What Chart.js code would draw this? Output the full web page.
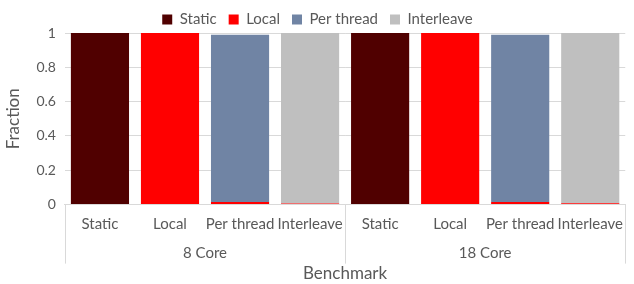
<!DOCTYPE html>
<html>
<head>
<meta charset="utf-8">
<script src="https://cdn.jsdelivr.net/npm/chart.js@4.4.1/dist/chart.umd.min.js"></script>
<style>
  html, body { margin: 0; padding: 0; background: #fff; }
  #wrap { width: 634px; height: 284px; }
</style>
</head>
<body>
<div id="wrap"><canvas id="fraction_chart"></canvas></div>
<script>
// data
const benchmarks = ['Static', 'Local', 'Per thread', 'Interleave', 'Static', 'Local', 'Per thread', 'Interleave'];
const cores = ['8 Core', '18 Core'];
const staticVals = [1, 0, 0, 0, 1, 0, 0, 0];
const localVals = [0, 1, 0.015, 0.006, 0, 1, 0.015, 0.008];
const perThreadVals = [0, 0, 0.975, 0, 0, 0, 0.975, 0];
const interleaveVals = [0, 0, 0, 0.994, 0, 0, 0, 0.992];
const yTicks = [0, 0.2, 0.4, 0.6, 0.8, 1];

const textColor = '#595959';
const lineColor = '#d9d9d9';
const font = 'Lato, "Open Sans", sans-serif';

// vertical separators for the two-level category axis
const groupLines = {
  id: 'groupLines',
  afterDraw(chart) {
    const { ctx, chartArea, scales } = chart;
    const x = scales.x;
    const n = benchmarks.length / cores.length;
    const xs = [chartArea.left];
    for (let g = 1; g < cores.length; g++) {
      xs.push((x.getPixelForValue(g * n - 1) + x.getPixelForValue(g * n)) / 2);
    }
    xs.push(chartArea.right);
    const y1 = chartArea.bottom + 59;
    ctx.save();
    ctx.strokeStyle = lineColor;
    ctx.lineWidth = 1;
    xs.forEach(px => {
      const p = Math.round(px) + 0.5;
      ctx.beginPath();
      ctx.moveTo(p, chartArea.bottom);
      ctx.lineTo(p, y1);
      ctx.stroke();
    });
    ctx.restore();
  }
};

const ctx = document.getElementById('fraction_chart').getContext('2d');
new Chart(ctx, {
  type: 'bar',
  data: {
    labels: benchmarks,
    datasets: [
      { label: 'Static', data: staticVals, backgroundColor: '#500000' },
      { label: 'Local', data: localVals, backgroundColor: '#ff0000' },
      { label: 'Per thread', data: perThreadVals, backgroundColor: '#7084a4' },
      { label: 'Interleave', data: interleaveVals, backgroundColor: '#bfbfbf' }
    ]
  },
  options: {
    animation: false,
    responsive: true,
    maintainAspectRatio: false,
    layout: { padding: { top: 0, right: 2, left: 3, bottom: 0 } },
    datasets: { bar: { categoryPercentage: 1, barPercentage: 0.83 } },
    plugins: {
      tooltip: { enabled: false },
      legend: {
        position: 'top',
        maxHeight: 33,
        labels: {
          boxWidth: 10, boxHeight: 10, padding: 12,
          color: textColor,
          font: { family: font, size: 15 }
        }
      }
    },
    scales: {
      x: {
        stacked: true,
        border: { display: true, color: lineColor },
        grid: { display: false, drawTicks: false },
        ticks: {
          color: textColor, padding: 11, maxRotation: 0, autoSkip: false,
          font: { family: font, size: 15 }
        }
      },
      x2: {
        type: 'category',
        labels: cores,
        position: 'bottom',
        offset: true,
        border: { display: false },
        grid: { display: false, drawTicks: false },
        ticks: {
          color: textColor, padding: 0,
          font: { family: font, size: 15 }
        },
        title: {
          display: true, text: 'Benchmark', color: textColor, padding: { top: 1, bottom: 0 },
          font: { family: font, size: 17 }
        }
      },
      y: {
        stacked: true,
        min: 0,
        max: 1,
        afterBuildTicks: axis => { axis.ticks = yTicks.map(v => ({ value: v })); },
        border: { display: false },
        grid: { color: lineColor, drawTicks: false },
        ticks: {
          color: textColor, padding: 9,
          font: { family: font, size: 14 },
          callback: v => String(v)
        },
        title: {
          display: true, text: 'Fraction', color: textColor, padding: { top: 0, bottom: 4 },
          font: { family: font, size: 17 }
        }
      }
    }
  },
  plugins: [groupLines]
});
</script>
</body>
</html>
